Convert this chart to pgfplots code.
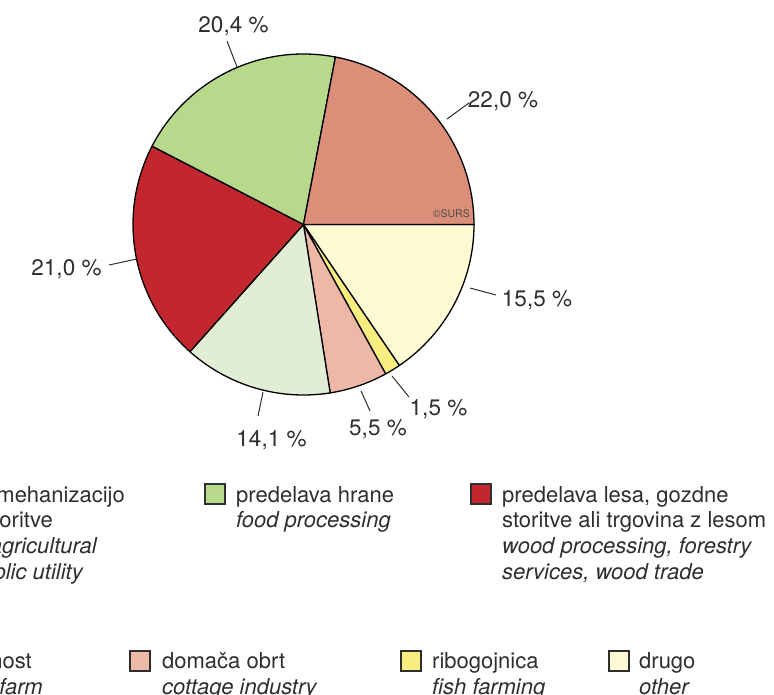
\documentclass[border=0pt]{standalone}
\usepackage{pgfplots}
\pgfplotsset{compat=1.18}
\usepackage{pgfplotstable}
\usepackage{fontspec}
\setmainfont{TeX Gyre Heros}

\definecolor{cStor}{HTML}{DB8F79}
\definecolor{cHrana}{HTML}{B8D98C}
\definecolor{cLes}{HTML}{C1272D}
\definecolor{cTur}{HTML}{E1EDD4}
\definecolor{cDomaca}{HTML}{EDB8A6}
\definecolor{cRibo}{HTML}{F7EE7F}
\definecolor{cDrugo}{HTML}{FFF9D3}
\definecolor{tc}{HTML}{2E2E2E}

% slices, clockwise from 3 o'clock
\pgfplotstableread{
val col
15.5 cDrugo
1.5 cRibo
5.5 cDomaca
14.1 cTur
21.0 cLes
20.4 cHrana
22.0 cStor
}\piedata

\newcommand\lt[3]{\node[anchor=base west,inner sep=0pt,text=tc] at (#1,-#2) {#3};}
\newcommand\rt[3]{\node[anchor=base east,inner sep=0pt,text=tc] at (#1,-#2) {#3};}
\newcommand\lbox[3]{\filldraw[fill=#3,draw=tc,line width=1.5pt] (#1,-#2) rectangle ++(20,-20);}
\newcommand\plab[3]{\node[anchor=base,inner sep=0pt,text=tc,font=\fontsize{22.5}{26}\selectfont] at (#1,-#2) {#3};}

\begin{document}
\begin{tikzpicture}[x=1pt,y=1pt]
\useasboundingbox (0,0) rectangle (774,-695);
\clip (0,0) rectangle (774,-695);
\fontsize{22}{25.7}\selectfont

\begin{axis}[at={(303.5pt,-224.5pt)}, anchor=origin, x=170.5pt, y=170.5pt,
  xmin=-1.1, xmax=1.1, ymin=-1.1, ymax=1.1, hide axis, clip=false]
\pgfplotsextra{
  \pgfplotstablegetrowsof{\piedata}
  \pgfmathtruncatemacro\N{\pgfplotsretval-1}
  \gdef\angA{0}
  \foreach \i in {0,...,\N}{
    \pgfplotstablegetelem{\i}{val}\of\piedata \let\v\pgfplotsretval
    \pgfplotstablegetelem{\i}{col}\of\piedata \let\c\pgfplotsretval
    \pgfmathsetmacro\angB{\angA-3.6*\v}
    \filldraw[fill=\c, draw=black, line width=1.3pt, line join=round]
      (axis cs:0,0) -- (axis cs:{cos(\angA)},{sin(\angA)})
      arc[start angle=\angA, end angle=\angB, radius=170.5pt] -- cycle;
    \xdef\angA{\angB}
  }
}
\end{axis}

\node[anchor=base east,inner sep=0pt,text=black!70,font=\fontsize{10.5}{12}\selectfont] at (470,-218) {©SURS};

% leader lines
\begin{scope}[draw=tc,line width=1pt]
\draw (237,-67) -- (227,-41);
\draw (447,-119) -- (469,-103);
\draw (137,-259) -- (109,-265);
\draw (470,-288) -- (496,-295);
\draw (392,-376) -- (409,-397);
\draw (361,-391) -- (370,-411);
\draw (263,-392) -- (258,-416);
\end{scope}

\plab{233.5}{33}{20,4 \%}
\plab{503}{108}{22,0 \%}
\plab{66.5}{276}{21,0 \%}
\plab{537}{306}{15,5 \%}
\plab{438.5}{415}{1,5 \%}
\plab{378}{435}{5,5 \%}
\plab{271.5}{446}{14,1 \%}

% legend row 1
\rt{125}{502}{s kmetijsko mehanizacijo}
\rt{53}{527}{in druge storitve}
\rt{97}{553}{\itshape services with agricultural}
\rt{83}{579}{\itshape machinery, public utility}

\lbox{205}{484}{cHrana}
\lt{236}{502}{predelava hrane}
\lt{236}{527}{\itshape food processing}

\lbox{471}{484}{cLes}
\lt{502}{502}{predelava lesa, gozdne}
\lt{502}{527}{storitve ali trgovina z lesom}
\lt{502}{553}{\itshape wood processing, forestry}
\lt{502}{579}{\itshape services, wood trade}

% legend row 2
\rt{32}{668}{turistična dejavnost}
\rt{43}{694}{\itshape tourism on farm}

\lbox{130}{651}{cDomaca}
\lt{162}{668}{domača obrt}
\lt{162}{694}{\itshape cottage industry}

\lbox{401}{651}{cRibo}
\lt{432}{668}{ribogojnica}
\lt{432}{694}{\itshape fish farming}

\lbox{609}{651}{cDrugo}
\lt{639}{668}{drugo}
\lt{639}{694}{\itshape other}
\end{tikzpicture}
\end{document}
